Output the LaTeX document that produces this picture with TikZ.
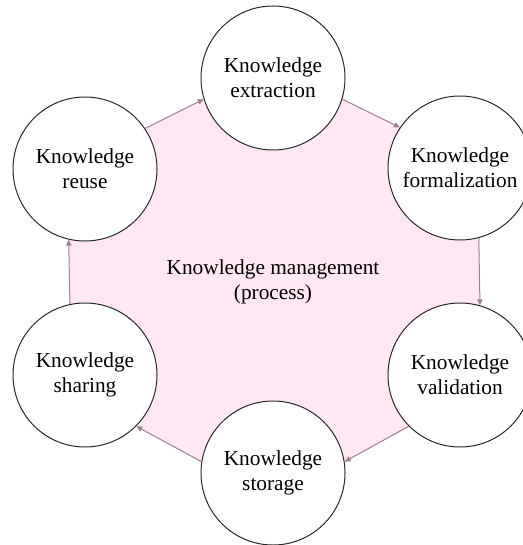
\documentclass[tikz,border=0pt]{standalone}
\usepackage{fontspec}
\setmainfont{Liberation Serif}
\usetikzlibrary{arrows.meta}
\definecolor{hexfill}{RGB}{255,232,243}
\definecolor{arrowcol}{RGB}{160,128,148}
\definecolor{circline}{RGB}{40,40,40}
\begin{document}
\begin{tikzpicture}[x=0.75pt,y=-0.75pt,
  stage/.style={circle,draw=circline,line width=0.75pt,fill=white,minimum size=108pt,inner sep=0pt,align=center,font=\fontsize{16}{18.75}\selectfont},
  label/.style={align=center,font=\fontsize{16}{18.75}\selectfont},
  flow/.style={draw=arrowcol,line width=0.75pt,-{Triangle[length=4.5pt,width=4pt]}}]
\useasboundingbox (0,0) rectangle (523,545);
\clip (0,0) rectangle (523,545);
\fill[white] (0,0) rectangle (523,545);
\fill[hexfill] (275,64) -- (479,168) -- (479,389) -- (273,501) -- (69,389) -- (69,165) -- cycle;
\node[label] (km) at (273,282) {Knowledge management\\(process)};
\node[stage] (ext) at (273,78) {Knowledge\\extraction};
\node[stage] (form) at (460,168) {Knowledge\\formalization};
\node[stage] (val) at (460,375) {Knowledge\\validation};
\node[stage] (sto) at (273,473) {Knowledge\\storage};
\node[stage] (sha) at (85,375) {Knowledge\\sharing};
\node[stage] (reu) at (85,169) {Knowledge\\reuse};
\draw[flow] (reu.34.3) -- (ext.197.4);
\draw[flow] (ext.343.3) -- (form.146.5);
\draw[flow] (form.285.5) -- (val.74.5);
\draw[flow] (val.225.6) -- (sto.9.2);
\draw[flow] (sto.171.2) -- (sha.315.5);
\draw[flow] (sha.102.8) -- (reu.257.2);
\end{tikzpicture}
\end{document}
